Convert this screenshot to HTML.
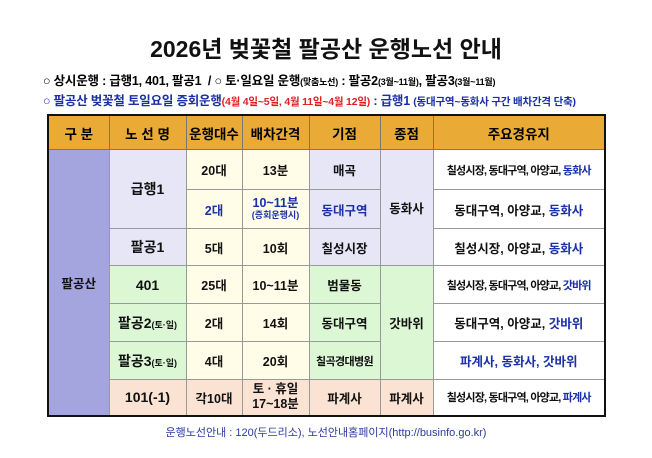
<!DOCTYPE html><html><head><meta charset="utf-8"><style>
body{margin:0;width:652px;height:458px;background:#fff;font-family:"Liberation Sans","Noto Sans CJK KR",sans-serif;position:relative;overflow:hidden}
.t{position:absolute;left:0;width:652px;text-align:center;top:30px;font-size:23px;font-weight:bold;color:#111}
.l{position:absolute;left:43px;font-size:12.5px;font-weight:bold;white-space:nowrap;letter-spacing:-0.2px}
table{position:absolute;left:47px;top:114px;width:557px;table-layout:fixed;border-collapse:collapse;border:2px solid #111;font-size:12.5px;font-weight:bold}
td{border:1px solid #999;text-align:center;padding:0;color:#111;white-space:nowrap;overflow:hidden}
th{background:#e9ab35;border:1px solid #777;height:33px;font-size:13.5px;padding:0}
.p{background:#a4a4de}.v{background:#e6e6f7}.y{background:#fffde8}.g{background:#dcf7d4}.o{background:#fbe3d4}.w{background:#fff}
.b{color:#1a2fa8}.s{font-size:9px}.s2{font-size:10.5px}
.n{font-size:11px;letter-spacing:-0.8px}
.f{position:absolute;top:424px;left:0;width:652px;text-align:center;font-size:11px;color:#2a3aa0}
</style></head><body>
<div class="t">2026년 벚꽃철 팔공산 운행노선 안내</div>
<div class="l" style="top:70px">○ 상시운행 : 급행1, 401, 팔공1 &nbsp;/ ○ 토·일요일 운행<span class="s">(맞춤노선)</span> : 팔공2<span class="s">(3월~11월)</span>, 팔공3<span class="s">(3월~11월)</span></div>
<div class="l" style="top:90px;color:#1a2fa8">○ 팔공산 벚꽃철 토일요일 증회운행<span class="s2" style="color:#e02020">(4월 4일~5일, 4월 11일~4월 12일)</span> : 급행1 <span class="s2">(동대구역~동화사 구간 배차간격 단축)</span></div>
<table>
<colgroup><col style="width:61px"><col style="width:77px"><col style="width:56px"><col style="width:67px"><col style="width:71px"><col style="width:53px"><col style="width:172px"></colgroup>
<tr><th>구 분</th><th>노 선 명</th><th>운행대수</th><th>배차간격</th><th>기점</th><th>종점</th><th>주요경유지</th></tr>
<tr style="height:40px"><td class="p" rowspan="7">팔공산</td><td class="v" rowspan="2" style="font-size:14px">급행1</td><td class="y">20대</td><td class="y">13분</td><td class="v">매곡</td><td class="v" rowspan="3">동화사</td><td class="w n">칠성시장, 동대구역, 아양교, <span class="b">동화사</span></td></tr>
<tr style="height:39px"><td class="y b">2대</td><td class="y b" style="line-height:11px">10~11분<br><span class="s">(증회운행시)</span></td><td class="v b">동대구역</td><td class="w">동대구역, 아양교, <span class="b">동화사</span></td></tr>
<tr style="height:37px"><td class="v" style="font-size:14px">팔공1</td><td class="y">5대</td><td class="y">10회</td><td class="v">칠성시장</td><td class="w">칠성시장, 아양교, <span class="b">동화사</span></td></tr>
<tr style="height:38px"><td class="g" style="font-size:14px">401</td><td class="y">25대</td><td class="y">10~11분</td><td class="g">범물동</td><td class="g" rowspan="3">갓바위</td><td class="w n">칠성시장, 동대구역, 아양교, <span class="b">갓바위</span></td></tr>
<tr style="height:38px"><td class="g" style="font-size:14px">팔공2<span class="s">(토·일)</span></td><td class="y">2대</td><td class="y">14회</td><td class="g">동대구역</td><td class="w">동대구역, 아양교, <span class="b">갓바위</span></td></tr>
<tr style="height:38px"><td class="g" style="font-size:14px">팔공3<span class="s">(토·일)</span></td><td class="y">4대</td><td class="y">20회</td><td class="g" style="font-size:11px;letter-spacing:-0.6px">칠곡경대병원</td><td class="w b">파계사, 동화사, 갓바위</td></tr>
<tr style="height:36px"><td class="o" style="font-size:14px">101(-1)</td><td class="o">각10대</td><td class="o" style="line-height:15px">토 · 휴일<br>17~18분</td><td class="o">파계사</td><td class="o">파계사</td><td class="w n">칠성시장, 동대구역, 아양교, <span class="b">파계사</span></td></tr>
</table>
<div class="f">운행노선안내 : 120(두드리소), 노선안내홈페이지(http://businfo.go.kr)</div>
</body></html>
